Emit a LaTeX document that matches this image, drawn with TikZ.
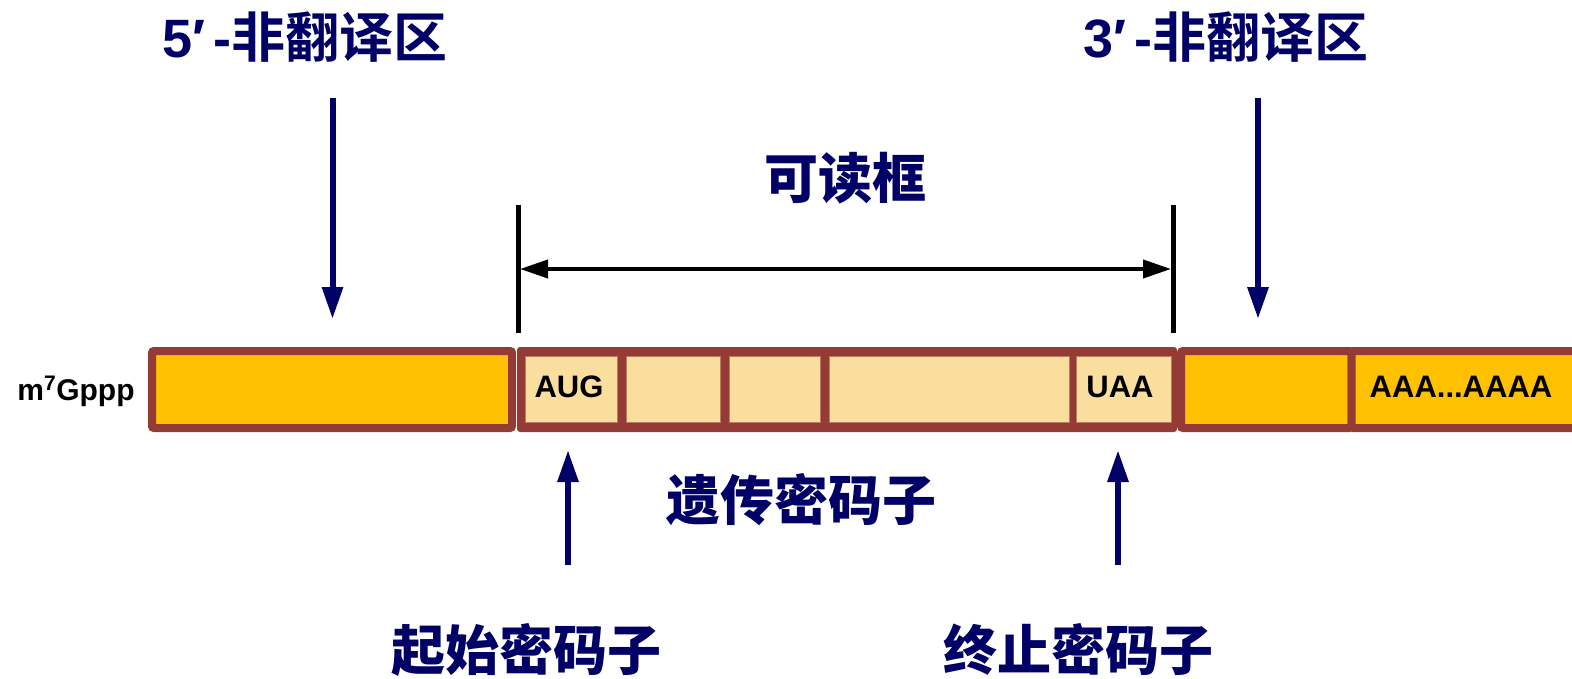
\documentclass[tikz,border=0pt]{standalone}
\usepackage{fontspec}
\setsansfont{Liberation Sans}
\newfontfamily\cjk{Noto Sans CJK SC Black}
\usetikzlibrary{arrows.meta}
\definecolor{navy}{RGB}{0,0,102}
\definecolor{barorg}{RGB}{255,192,0}
\definecolor{barlight}{RGB}{249,222,157}
\definecolor{barred}{RGB}{148,59,53}
\begin{document}
\begin{tikzpicture}[x=1pt,y=-1pt,
  title/.style={text=navy,font=\cjk\fontsize{54}{54}\selectfont,inner sep=0pt},
  seg/.style={draw=barred,line width=8pt,fill=barorg,rounded corners=2pt,inner sep=0pt},
  cell/.style={draw=barred!60!barlight,line width=0.8pt,fill=barlight,inner sep=0pt,minimum height=66pt},
  bartext/.style={font=\sffamily\bfseries\fontsize{31}{31}\selectfont,inner sep=0pt,anchor=base},
  navyarrow/.style={draw=navy,line width=6pt,-{Triangle[width=20pt,length=32pt]}},
  blackbar/.style={draw=black,line width=5pt},
  orfarrow/.style={draw=black,line width=4pt,{Triangle[width=18pt,length=28pt]}-{Triangle[width=18pt,length=28pt]}}]
\useasboundingbox (0,0) rectangle (1572,679);
% bar
\node[seg,minimum width=360pt,minimum height=77pt] (utr5) at (332,389.5) {};
\node[seg,minimum width=170.5pt,minimum height=77pt] (utr3) at (1266.25,389.5) {};
\node[seg,minimum width=248.5pt,minimum height=77pt] (polya) at (1475.75,389.5) {};
\node[fill=barred,rounded corners=3pt,minimum width=660pt,minimum height=85pt,inner sep=0pt] (orf) at (847,389.5) {};
\node[cell,minimum width=92pt] (aug) at (571,389) {};
\node[cell,minimum width=94pt] (c2) at (673,389) {};
\node[cell,minimum width=91pt] (c3) at (774.5,389) {};
\node[cell,minimum width=240pt] (c4) at (949,389) {};
\node[cell,minimum width=95pt] (uaa) at (1123.5,389) {};
\node[bartext] (augt) at (569,397.5) {AUG};
\node[bartext] (uaat) at (1120,397.5) {UAA};
\node[bartext] (polyat) at (1461,397.5) {AAA...AAAA};
\node[font=\sffamily\bfseries\fontsize{30}{30}\selectfont,inner sep=0pt,anchor=base] (cap) at (76,400) {m\textsuperscript{7}Gppp};
% titles
\node[title] (t5) at (305,37) {\sffamily\bfseries 5′\,-\cjk 非翻译区};
\node[title] (t3) at (1226,37) {\sffamily\bfseries 3′\,-\cjk 非翻译区};
\node[title] (orft) at (845,178) {可读框};
\node[title] (codon) at (801,500) {遗传密码子};
\node[title] (start) at (526,650) {起始密码子};
\node[title] (stop) at (1078,650) {终止密码子};
% reading frame markers
\coordinate (l1) at (518,205); \coordinate (l2) at (518,333);
\coordinate (r1) at (1173,205); \coordinate (r2) at (1173,333);
\coordinate (la) at (520,269); \coordinate (ra) at (1171,269);
\draw[blackbar] (l1) -- (l2);
\draw[blackbar] (r1) -- (r2);
\draw[orfarrow] (la) -- (ra);
% navy arrows
\coordinate (d5a) at (332.5,98); \coordinate (d5b) at (332.5,319);
\coordinate (d3a) at (1258,98); \coordinate (d3b) at (1258,319);
\coordinate (usa) at (568,565); \coordinate (usb) at (568,450);
\coordinate (uea) at (1118,565); \coordinate (ueb) at (1118,450);
\draw[navyarrow] (d5a) -- (d5b);
\draw[navyarrow] (d3a) -- (d3b);
\draw[navyarrow] (usa) -- (usb);
\draw[navyarrow] (uea) -- (ueb);
\end{tikzpicture}
\end{document}
